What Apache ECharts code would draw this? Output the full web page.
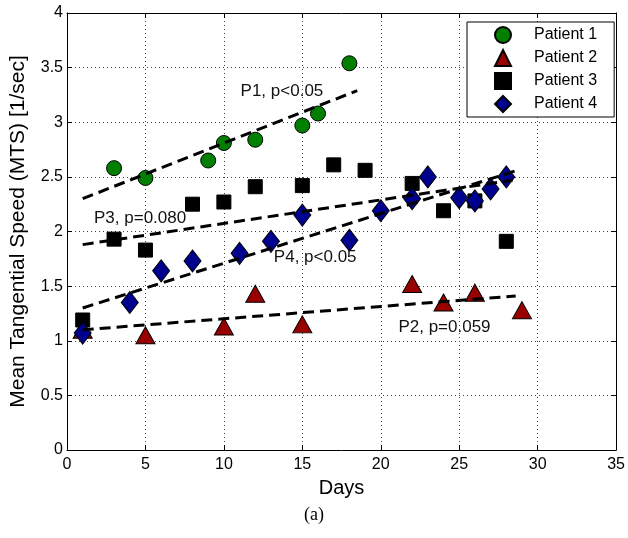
<!DOCTYPE html>
<html><head><meta charset="utf-8">
<script src="https://cdn.jsdelivr.net/npm/echarts@6/dist/echarts.min.js"></script>
<style>html,body{margin:0;padding:0;background:#fff}#c{width:628px;height:538px}</style>
</head><body><div id="c"></div>
<script>
const p1Days = [3,5,9,10,12,15,16,18];
const p1Mts = [2.58,2.49,2.65,2.81,2.84,2.97,3.08,3.54];
const p2Days = [1,5,10,12,15,22,24,26,29];
const p2Mts = [1.10,1.05,1.13,1.43,1.15,1.52,1.35,1.44,1.28];
const p3Days = [1,3,5,8,10,12,15,17,19,22,24,26,28];
const p3Mts = [1.19,1.93,1.83,2.25,2.27,2.41,2.42,2.61,2.56,2.44,2.19,2.28,1.91];
const p4Days = [1,4,6,8,11,13,15,18,20,22,23,25,26,27,28];
const p4Mts = [1.07,1.35,1.64,1.73,1.80,1.91,2.15,1.92,2.19,2.30,2.50,2.31,2.28,2.39,2.50];
const trendDays = [[1,18.5],[1,28.6],[1,28.4],[1,28.7]];
const trendMts = [[2.30,3.29],[1.10,1.41],[1.88,2.47],[1.30,2.56]];
const trendLabels = ['P1, p<0.05','P2, p=0.059','P3, p=0.080','P4, p<0.05'];
const labelDays = [13.7,24.06,4.66,15.82];
const labelMts = [3.28,1.12,2.12,1.76];
const patientNames = ['Patient 1','Patient 2','Patient 3','Patient 4'];
const xTickInterval = 5, xMin = 0, xMax = 35;
const yTickInterval = 0.5, yMin = 0, yMax = 4;

const FONT = '"Liberation Sans", Arial, Helvetica, sans-serif';
const pair = (xs, ys) => xs.map((x, i) => [x, ys[i]]);

const axisCommon = {
  type: 'value',
  axisLine: { show: true, onZero: false, lineStyle: { color: '#000', width: 1 } },
  axisTick: { show: true, inside: true, length: 5, lineStyle: { color: '#000', width: 1 } }
};

const markerStyles = [
  { symbol: 'circle', symbolSize: 15, color: '#007f00' },
  { symbol: 'triangle', symbolSize: [19, 17], color: '#990000' },
  { symbol: 'rect', symbolSize: 14, color: '#000000' },
  { symbol: 'diamond', symbolSize: [17, 22], color: '#00008f' }
];
const seriesData = [pair(p1Days, p1Mts), pair(p2Days, p2Mts), pair(p3Days, p3Mts), pair(p4Days, p4Mts)];

const series = [];
seriesData.forEach((d, i) => {
  const m = markerStyles[i];
  series.push({
    name: patientNames[i], type: 'scatter', data: d,
    symbol: m.symbol, symbolSize: m.symbolSize,
    itemStyle: { color: m.color, borderColor: '#000', borderWidth: 1, opacity: 1 },
    emphasis: { disabled: true }, z: 2
  });
});
trendDays.forEach((xs, i) => {
  series.push({
    type: 'line', data: pair(xs, trendMts[i]), symbol: 'none', silent: true,
    lineStyle: { color: '#000', width: 3, type: [11, 6] }, z: 3
  });
});
series.push({
  type: 'scatter', silent: true, symbol: 'circle', symbolSize: 2,
  itemStyle: { color: 'rgba(0,0,0,0)', borderWidth: 0, opacity: 1 },
  data: labelDays.map((x, i) => ({ value: [x, labelMts[i]], name: trendLabels[i] })),
  label: { show: true, position: 'inside', align: 'center', verticalAlign: 'middle',
           formatter: p => p.name, color: '#111', fontSize: 17, fontFamily: FONT, opacity: 1 },
  z: 4
});

const chart = echarts.init(document.getElementById('c'), null, { renderer: 'canvas' });
chart.setOption({
  animation: false,
  backgroundColor: '#fff',
  grid: { left: 65, right: 11, top: 13, bottom: 88, containLabel: false },
  xAxis: [
    Object.assign({}, axisCommon, {
      position: 'bottom', min: xMin, max: xMax, interval: xTickInterval,
      axisLabel: { color: '#000', fontSize: 16, fontFamily: FONT, margin: 7 },
      splitLine: { show: true, lineStyle: { color: '#444', width: 1, type: [1, 3] } },
      name: 'Days', nameLocation: 'middle', nameGap: 28,
      nameTextStyle: { color: '#000', fontSize: 20, fontFamily: FONT }
    }),
    Object.assign({}, axisCommon, {
      position: 'top', min: xMin, max: xMax, interval: xTickInterval,
      axisLabel: { show: false }, splitLine: { show: false }
    })
  ],
  yAxis: [
    Object.assign({}, axisCommon, {
      position: 'left', min: yMin, max: yMax, interval: yTickInterval,
      axisLabel: { color: '#000', fontSize: 16, fontFamily: FONT, margin: 4 },
      splitLine: { show: true, lineStyle: { color: '#444', width: 1, type: [1, 3] } },
      name: 'Mean Tangential Speed (MTS) [1/sec]', nameLocation: 'middle', nameGap: 38,
      nameTextStyle: { color: '#000', fontSize: 21, fontFamily: FONT }
    }),
    Object.assign({}, axisCommon, {
      position: 'right', min: yMin, max: yMax, interval: yTickInterval,
      axisLabel: { show: false }, splitLine: { show: false }
    })
  ],
  legend: {
    data: patientNames, orient: 'vertical', left: 467, top: 22,
    backgroundColor: '#fff', borderColor: '#000', borderWidth: 1, borderRadius: 0,
    padding: [4, 17, 4, 27], itemWidth: 16, itemHeight: 16, itemGap: 5,
    selectedMode: false,
    textStyle: { color: '#000', fontSize: 16, fontFamily: FONT, padding: [0, 0, 0, 18] }
  },
  graphic: [{
    type: 'text', left: 'center', top: 506,
    style: { text: '(a)', font: '18px "Liberation Serif", "Times New Roman", serif', fill: '#000' }
  }],
  series: series
});
</script></body></html>
